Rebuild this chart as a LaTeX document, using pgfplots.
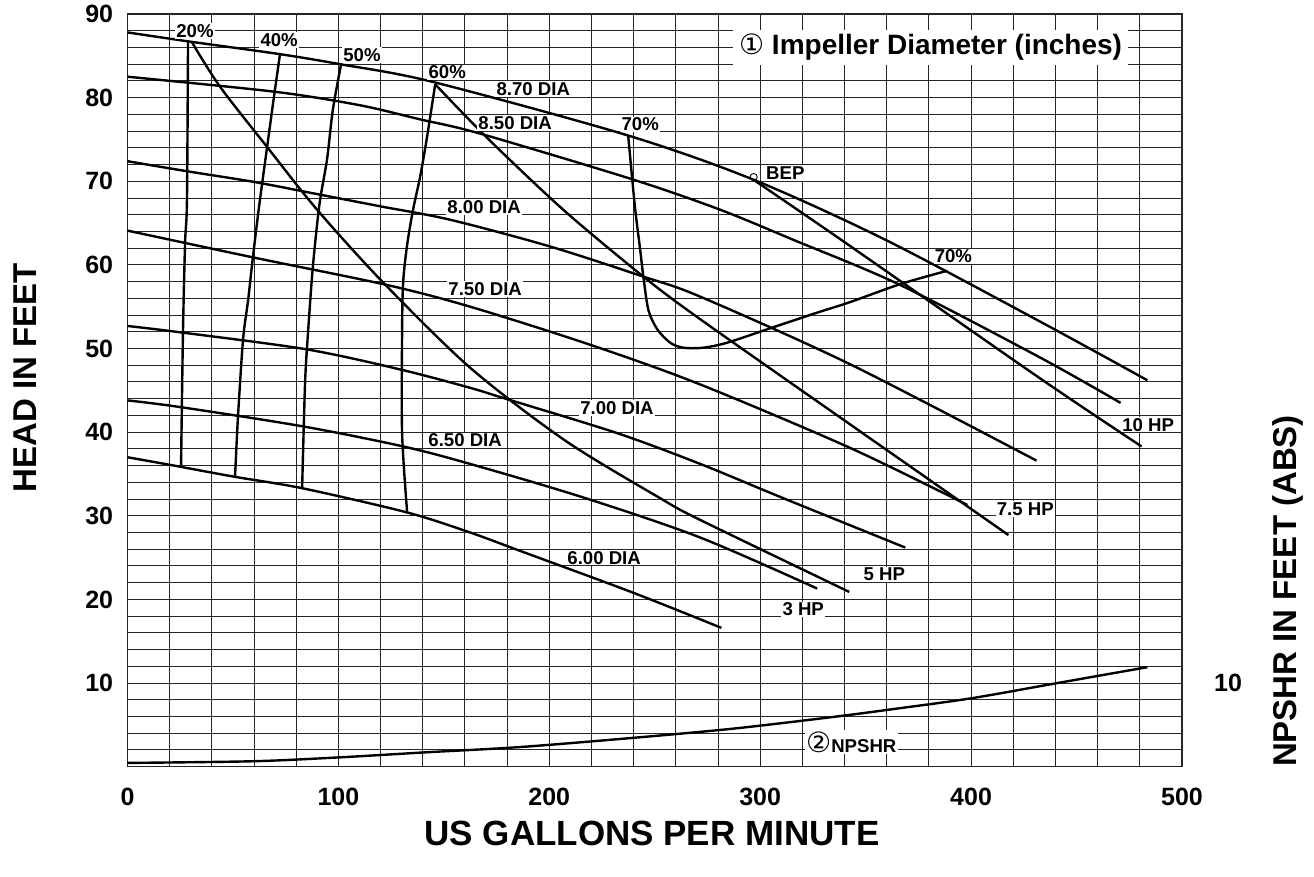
\documentclass[border=0pt]{standalone}
\usepackage{pgfplots}
\pgfplotsset{compat=1.18}
\usepackage{fontspec}
\setmainfont{Liberation Sans}
\newfontfamily\dejavu{DejaVu Sans}
\tikzset{lbl/.style={font=\fontsize{9.3}{10}\selectfont\bfseries,fill=white,inner sep=0.6pt}}
\begin{document}
\begin{tikzpicture}[font=\bfseries]
\begin{axis}[
 at={(63.75pt,55.15pt)}, anchor=south west,
 scale only axis, width=527.25pt, height=376.35pt,
 xmin=0,xmax=500,ymin=0,ymax=90,
 xtick={0,100,...,500}, ytick={10,20,...,90},
 minor xtick={20,40,...,480}, minor ytick={2,4,...,88},
 grid=both,
 major grid style={black!85,line width=0.5pt},
 minor grid style={black!85,line width=0.5pt},
 axis line style={black!85,line width=0.6pt},
 major tick length=0pt, minor tick length=0pt,
 /pgf/number format/assume math mode=true,
 tick label style={font=\fontsize{12.5}{14}\selectfont\bfseries},
 xticklabel style={anchor=center,yshift=-15pt},
 yticklabel style={anchor=east,inner sep=0pt,xshift=-7pt},
 every axis plot/.append style={black,line width=1.2pt},
 clip=false,
]
% impeller diameter curves
\addplot[smooth] coordinates {(0,87.8) (29.6,86.7) (72.3,85.2) (100.8,84.0) (144.5,81.9) (237,75.5) (296.7,70.2) (359.4,63.0) (432.9,53.2) (483.6,46.2)};
\addplot[smooth] coordinates {(0,82.5) (70,80.7) (110,79.1) (138.8,77.4) (167.2,75.7) (239.8,70.2) (281,66.6) (315.7,63.0) (366.4,57.6) (432.9,48.9) (470.9,43.5)};
\addplot[smooth] coordinates {(0,72.4) (28.2,71.2) (60.5,69.9) (91.3,68.4) (120,67.0) (153,65.4) (200.4,62.2) (244.6,58.6) (271.6,56.2) (342.8,48.1) (431,36.6)};
\addplot[smooth] coordinates {(0,64.1) (59.5,60.9) (123,57.6) (162.5,55.0) (220,50.4) (271.6,45.7) (342.8,38.1) (398.2,31.3)};
\addplot[smooth] coordinates {(0,52.7) (26.3,51.9) (85,49.9) (129.3,47.5) (162.5,45.3) (178,44.1) (232,39.9) (271.6,36.2) (311,32.1) (368.8,26.2)};
\addplot[smooth] coordinates {(0,43.8) (25,43.0) (83,40.7) (130.6,38.3) (162.5,36.2) (216,32.2) (271.6,27.4) (327,21.3)};
\addplot[smooth] coordinates {(0,37.0) (20,36.1) (50,34.7) (82.8,33.3) (132.6,30.4) (162.5,28.0) (186.2,25.8) (239.8,20.8) (281.6,16.6)};
% power lines
\addplot[smooth] coordinates {(30.6,86.6) (43.9,81.3) (66.2,74.1) (89.9,66.6) (121.2,57.9) (162.5,47.7) (207.5,39.0) (252.6,32.1) (271.6,29.5) (342.2,20.9)};
\addplot[smooth] coordinates {(145.9,81.6) (170.5,75.2) (206.6,66.6) (244.6,58.6) (271.6,53.5) (342.8,40.9) (417.7,27.7)};
\addplot[smooth] coordinates {(296.7,70.2) (338.4,63.0) (432.9,46.4) (480.8,38.3)};
% efficiency lines
\addplot[smooth] coordinates {(28.7,86.7) (28.2,67.8) (27.3,62.6) (26.3,51.9) (25.4,36.1)};
\addplot[smooth] coordinates {(72.3,85.2) (69.5,80.2) (66.2,74.1) (62.5,67.2) (59.5,61.0) (57.2,55.8) (54.8,51.1) (52.4,41.9) (51,34.7)};
\addplot[smooth] coordinates {(101.3,84.0) (97.4,78.6) (94.6,72.6) (91,67.2) (87.9,59.8) (85.6,51.9) (84.2,45.9) (82.8,33.3)};
\addplot[smooth] coordinates {(145.9,81.6) (142.1,75.4) (138.8,70.6) (135.4,66.6) (132.6,62.4) (130.7,57.9) (130.2,51.9) (130.2,39.9) (132.6,30.4)};
\addplot[smooth] coordinates {(237.4,75.5) (240.5,67.2) (243.1,61.8) (244.6,58.6) (247,54.6) (251.2,52.3) (257.3,50.7) (263.5,50.1) (273,50.1) (284.4,50.7) (303.3,52.3) (327.1,54.3) (342,55.5) (366.4,57.7) (388.7,59.3)};
% NPSHR
\addplot[smooth] coordinates {(0,0.45) (59.5,0.65) (99.4,1.1) (140.2,1.7) (186.2,2.35) (239.8,3.45) (287.2,4.55) (334.7,5.95) (366.4,7.0) (400.6,8.2) (440.9,10.0) (483.6,11.9)};
% BEP marker
\addplot[only marks,mark=o,mark size=1.8pt,line width=0.45pt,black,mark options={fill=white}] coordinates {(296.9,70.5)};
% labels
\node[lbl] at (axis cs:32,88.0) {20\%};
\node[lbl] at (axis cs:71.9,86.9) {40\%};
\node[lbl] at (axis cs:111.2,85.1) {50\%};
\node[lbl] at (axis cs:151.6,83.0) {60\%};
\node[lbl] at (axis cs:192.4,81.0) {8.70 DIA};
\node[lbl] at (axis cs:183.8,77.0) {8.50 DIA};
\node[lbl] at (axis cs:243.1,76.8) {70\%};
\node[lbl] at (axis cs:311.9,71.0) {BEP};
\node[lbl] at (axis cs:169.1,66.9) {8.00 DIA};
\node[lbl] at (axis cs:169.6,57.1) {7.50 DIA};
\node[lbl] at (axis cs:232.1,42.9) {7.00 DIA};
\node[lbl] at (axis cs:160.1,39.0) {6.50 DIA};
\node[lbl] at (axis cs:226,25.0) {6.00 DIA};
\node[lbl] at (axis cs:391.6,61.0) {70\%};
\node[lbl] at (axis cs:484,40.9) {10 HP};
\node[lbl] at (axis cs:425.7,30.8) {7.5 HP};
\node[lbl] at (axis cs:358.9,23.0) {5 HP};
\node[lbl] at (axis cs:320.4,18.8) {3 HP};
\node[lbl] at (axis cs:343.2,2.95) {{\dejavu\mdseries\fontsize{14}{14}\selectfont ②}NPSHR};
\node[fill=white,inner xsep=3pt,inner ysep=2pt,font=\fontsize{14}{16}\selectfont\bfseries] at (axis cs:380.8,86.0) {{\dejavu\mdseries ①} Impeller Diameter (inches)};
\end{axis}
\node[rotate=90,font=\fontsize{16.5}{18}\selectfont\bfseries] at (12.5pt,249.5pt) {HEAD IN FEET};
\node[rotate=90,font=\fontsize{16.5}{18}\selectfont\bfseries] at (644pt,143pt) {NPSHR IN FEET (ABS)};
\node[font=\fontsize{17.5}{19}\selectfont\bfseries] at (326pt,22pt) {US GALLONS PER MINUTE};
\node[font=\fontsize{12.5}{14}\selectfont\bfseries] at (614pt,97pt) {10};
\pgfresetboundingbox
\path (0,0) rectangle (657pt,438.5pt);
\end{tikzpicture}
\end{document}
